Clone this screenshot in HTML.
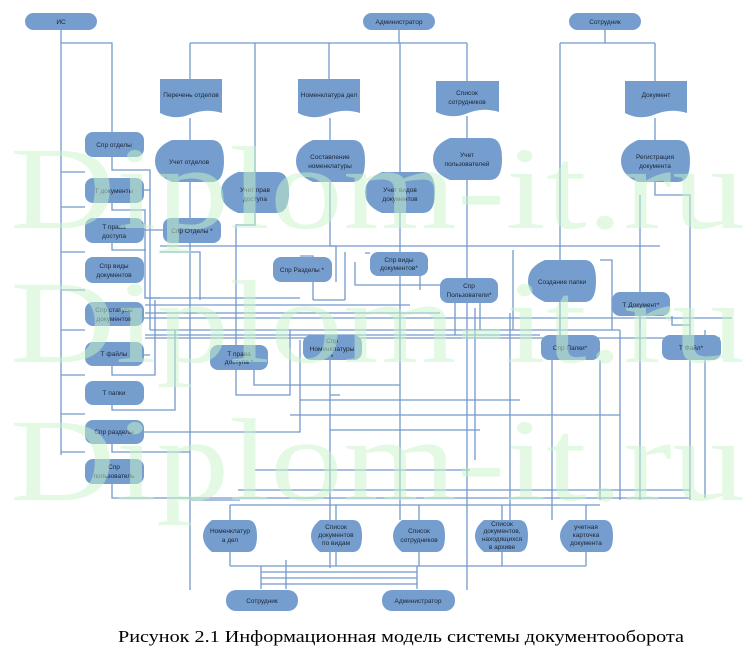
<!DOCTYPE html>
<html><head><meta charset="utf-8"><style>
html,body{margin:0;padding:0;background:#fff;}
svg{display:block}
</style></head><body>
<svg width="750" height="672" viewBox="0 0 750 672" xmlns="http://www.w3.org/2000/svg" font-family="Liberation Sans, sans-serif">
<defs>
<style>
.l{stroke:#7399cc;stroke-width:1.3;fill:none}
.n{fill:#759ecf}
.t{font-size:6.5px;fill:#1a2433;text-anchor:middle}
</style>
</defs>
<g class="l">
<!-- top terminals -->
<path d="M61 30V455 M61 43H112V132 M61 172H85 M61 207H85 M61 252H85 M61 290H85 M61 330H85 M61 375H85 M61 414H85 M61 452H85"/>
<path d="M399 30V43 M190 43H467 M190 43V79 M255 43V172 M329 43V79 M400 43V172 M467 43V81"/>
<path d="M605 30V43 M560 43H655 M560 43V260 M655 43V81"/>
<!-- chains -->
<path d="M190 118V140 M190 182V218 M190 243V590 M330 118V140 M330 182V246H336V282 M467 116V138 M467 180V278 M467 303V590 M655 118V140 M655 182V195H690V350 M640 195V292 M400 213V252 M400 276V520 M255 213V225H236V345 M560 302V335"/>
<!-- horizontal mesh -->
<path d="M112 157V170H150V330 M144 190H150 M144 230H163 M112 203V210H145V298H160 M112 243V250H146"/>
<path d="M160 246H660 M160 252H200V300 M145 298H300 M145 305H410 M145 313H440 M112 318H732 M150 330H620 M145 335H540 M145 338H720"/>
<path d="M300 256H313V300 M313 300H345 M345 252V300 M365 253H370 M355 262V285H370 M355 285H440 M420 255V290 M436 285H480V330 M455 290V335"/>
<path d="M513 250V330 M600 260H612V330 M640 292V330 M560 302V330 M672 316V325H690"/>
<path d="M112 366V375H155V300 M144 355H150 M112 405V410H175V330 M144 432H300V340 M112 444V452H190 M112 484V498H690"/>
<path d="M254 370V385H400 M236 370V395H290V330 M330 360V395H340 M330 360V568"/>
<path d="M300 400H520 M290 415H620 M330 430H480 M238 490H690 M255 470H470 M190 500H240"/>
<path d="M475 308V460 M510 313V520 M552 360V520 M600 360V500 M640 316V500 M690 360V500 M705 330V498 M620 330V500"/>
<path d="M230 505H600 M230 505V520 M336 505V520 M419 505V520 M502 505V520 M586 505V520"/>
<path d="M230 552V566 M336 552V566 M419 552V566 M502 552V566 M586 552V566 M230 566H586"/>
<path d="M261 566V589 M417 566V589 M261 572H417 M261 578H417 M261 584H417 M286 560V589"/>
</g>
<!-- terminals -->
<g class="n">
<rect x="25" y="13" width="72" height="17" rx="8.5"/>
<rect x="363" y="13" width="72" height="17" rx="8.5"/>
<rect x="569" y="13" width="72" height="17" rx="8.5"/>
<rect x="226" y="590" width="72" height="21" rx="10"/>
<rect x="382" y="590" width="73" height="21" rx="10"/>
</g>
<!-- documents -->
<g class="n">
<path d="M160 79H222V113Q206 108 191 114Q175 121 160 113Z"/>
<path d="M298 79H360V113Q344 108 329 114Q313 121 298 113Z"/>
<path d="M436 81H499V112Q483 107 468 113Q452 120 436 112Z"/>
<path d="M625 81H687V113Q671 108 656 114Q640 121 625 113Z"/>
</g>
<!-- process shapes -->
<g class="n">
<path d="M172 140H212Q224 140 224 161Q224 182 212 182H172Q155 175 155 161Q155 147 172 140Z"/>
<path d="M313 140H353Q365 140 365 161Q365 182 353 182H313Q296 175 296 161Q296 147 313 140Z"/>
<path d="M238 172H277Q289 172 289 192Q289 213 277 213H238Q221 206 221 192Q221 179 238 172Z"/>
<path d="M382 172H423Q435 172 435 192Q435 213 423 213H382Q365 206 365 192Q365 179 382 172Z"/>
<path d="M450 138H490Q502 138 502 159Q502 180 490 180H450Q433 173 433 159Q433 145 450 138Z"/>
<path d="M638 140H678Q690 140 690 161Q690 182 678 182H638Q621 175 621 161Q621 147 638 140Z"/>
<path d="M545 260H585Q596 260 596 281Q596 302 585 302H545Q528 295 528 281Q528 267 545 260Z"/>
<path d="M212 520H248Q257 520 257 536Q257 552 248 552H212Q203 545 203 536Q203 527 212 520Z"/>
<path d="M320 520H353Q362 520 362 536Q362 552 353 552H320Q311 545 311 536Q311 527 320 520Z"/>
<path d="M402 520H436Q445 520 445 536Q445 552 436 552H402Q393 545 393 536Q393 527 402 520Z"/>
<path d="M484 520H519Q528 520 528 536Q528 552 519 552H484Q475 545 475 536Q475 527 484 520Z"/>
<path d="M569 520H604Q613 520 613 536Q613 552 604 552H569Q560 545 560 536Q560 527 569 520Z"/>
</g>
<!-- stored data -->
<g class="n">
<rect x="85" y="132" width="59" height="25" rx="8"/>
<rect x="85" y="178" width="59" height="25" rx="8"/>
<rect x="85" y="218" width="59" height="25" rx="8"/>
<rect x="85" y="257" width="59" height="26" rx="8"/>
<rect x="85" y="302" width="59" height="24" rx="8"/>
<rect x="85" y="342" width="59" height="24" rx="8"/>
<rect x="85" y="381" width="59" height="24" rx="8"/>
<rect x="85" y="420" width="59" height="24" rx="8"/>
<rect x="85" y="459" width="59" height="25" rx="8"/>
<rect x="163" y="218" width="58" height="25" rx="8"/>
<rect x="273" y="257" width="59" height="25" rx="8"/>
<rect x="370" y="252" width="58" height="24" rx="8"/>
<rect x="440" y="278" width="58" height="25" rx="8"/>
<rect x="210" y="345" width="58" height="25" rx="8"/>
<rect x="303" y="335" width="59" height="25" rx="8"/>
<rect x="541" y="335" width="59" height="25" rx="8"/>
<rect x="612" y="292" width="58" height="24" rx="8"/>
<rect x="662" y="335" width="59" height="25" rx="8"/>
</g>
<g class="t">
<text x="61" y="24">ИС</text>
<text x="399" y="24">Администратор</text>
<text x="605" y="24">Сотрудник</text>
<text x="262" y="603">Сотрудник</text>
<text x="418" y="603">Администратор</text>
<text x="191" y="97">Перечень отделов</text>
<text x="329" y="97">Номенклатура дел</text>
<text x="467" y="95">Список</text><text x="467" y="104">сотрудников</text>
<text x="656" y="97">Документ</text>
<text x="189" y="164">Учет отделов</text>
<text x="330" y="159">Составление</text><text x="330" y="168">номенклатуры</text>
<text x="255" y="192">Учет прав</text><text x="255" y="201">доступа</text>
<text x="400" y="192">Учет видов</text><text x="400" y="201">документов</text>
<text x="467" y="157">Учет</text><text x="467" y="166">пользователей</text>
<text x="655" y="159">Регистрация</text><text x="655" y="168">документа</text>
<text x="562" y="284">Создание папки</text>
<text x="114" y="147">Спр отделы</text>
<text x="114" y="193">Т документы</text>
<text x="114" y="229">Т права</text><text x="114" y="238">доступа</text>
<text x="114" y="268">Спр виды</text><text x="114" y="277">документов</text>
<text x="114" y="312">Спр статусы</text><text x="114" y="321">документов</text>
<text x="114" y="356">Т файлы</text>
<text x="114" y="395">Т папки</text>
<text x="114" y="434">Спр разделы</text>
<text x="114" y="469">Спр</text><text x="114" y="478">пользователь</text>
<text x="192" y="233">Спр Отделы *</text>
<text x="302" y="272">Спр Разделы *</text>
<text x="399" y="262">Спр виды</text><text x="399" y="270">документов*</text>
<text x="469" y="288">Спр</text><text x="469" y="297">Пользователи*</text>
<text x="239" y="356">Т права</text><text x="239" y="364">доступа *</text>
<text x="332" y="343">Спр</text><text x="332" y="351">Номенклатуры</text><text x="332" y="359">*</text>
<text x="570" y="350">Спр Папки*</text>
<text x="641" y="307">Т Документ*</text>
<text x="691" y="350">Т Файл*</text>
<text x="230" y="533">Номенклатур</text><text x="230" y="542">а дел</text>
<text x="336" y="529">Список</text><text x="336" y="537">документов</text><text x="336" y="545">по видам</text>
<text x="419" y="533">Список</text><text x="419" y="542">сотрудников</text>
<text x="502" y="526">Список</text><text x="502" y="533">документов,</text><text x="502" y="541">находящихся</text><text x="502" y="549">в архиве</text>
<text x="586" y="529">учетная</text><text x="586" y="537">карточка</text><text x="586" y="545">документа</text>
</g>
<!-- watermark -->
<g font-family="Liberation Serif, serif" font-size="118" fill="#c9f5c9" opacity="0.5">
<text x="10" y="228" textLength="735" lengthAdjust="spacingAndGlyphs">Diplom-it.ru</text>
<text x="10" y="362" textLength="735" lengthAdjust="spacingAndGlyphs">Diplom-it.ru</text>
<text x="10" y="500" textLength="735" lengthAdjust="spacingAndGlyphs">Diplom-it.ru</text>
</g>
<text x="401" y="642" font-family="Liberation Serif, serif" font-size="17" fill="#000" text-anchor="middle" textLength="566" lengthAdjust="spacingAndGlyphs">Рисунок 2.1 Информационная модель системы документооборота</text>
</svg>
</body></html>
